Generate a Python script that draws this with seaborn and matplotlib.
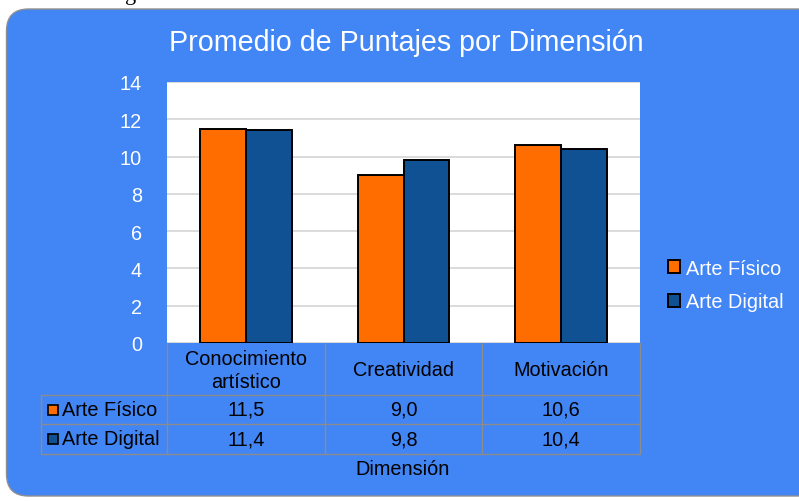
import numpy as np
import pandas as pd
import matplotlib
matplotlib.use("Agg")
import matplotlib.pyplot as plt
import matplotlib.transforms as mtransforms
from matplotlib.patches import FancyBboxPatch, Rectangle
import seaborn as sns

# Data
categories = ["Conocimiento\nartístico", "Creatividad", "Motivación"]
series_names = ["Arte Físico", "Arte Digital"]
arte_fisico = [11.5, 9.0, 10.6]
arte_digital = [11.4, 9.8, 10.4]
y_ticks = [0, 2, 4, 6, 8, 10, 12, 14]

title = "Promedio de Puntajes por Dimensión"
x_label = "Dimensión"

# Colours
BG_BLUE = "#4285f4"
ORANGE = "#ff6d00"
DARK_BLUE = "#0f5192"
GRID = "#d4d4d4"
TABLE_LINE = "#8c8c8c"

df = pd.DataFrame({
    "Dimensión": categories * 2,
    "Serie": [series_names[0]] * 3 + [series_names[1]] * 3,
    "Valor": arte_fisico + arte_digital,
})

sns.set_theme(style="white")
plt.rcParams["font.family"] = ["Liberation Sans", "DejaVu Sans"]
FS = 14.3

W, H = 799, 502
fig = plt.figure(figsize=(W / 100, H / 100), dpi=100)
fig.patch.set_facecolor("white")

# rounded blue background (inches)
bg = FancyBboxPatch((0.065, 0.05), 8.3, 4.87,
                    boxstyle="round,pad=0,rounding_size=0.22",
                    transform=fig.dpi_scale_trans,
                    facecolor=BG_BLUE, edgecolor="#8f8f8f", linewidth=1.0, zorder=-10)
fig.patches.append(bg)

# cut off text from the page above the chart
fig.text(125 / W, 1.0, "g", family="Liberation Serif", fontsize=16,
         color="black", ha="left", va="baseline", zorder=-5)


def fy(py):
    return 1 - py / H


ax = fig.add_axes([167 / W, fy(344), (640 - 167) / W, (344 - 83) / H])
ax.set_facecolor("white")

sns.barplot(data=df, x="Dimensión", y="Valor", hue="Serie",
            palette=[ORANGE, DARK_BLUE], saturation=1, width=0.58, ax=ax,
            edgecolor="black", linewidth=1.4, legend=True, zorder=3)

ax.set_ylim(0, 14)
ax.set_xlim(-0.5, len(categories) - 0.5)
ax.set_yticks(y_ticks)
ax.set_yticklabels([str(t) for t in y_ticks], color="white", fontsize=FS)
ax.tick_params(axis="y", length=0, pad=18)
ax.set_xticks([])
ax.set_xlabel("")
ax.set_ylabel("")
ax.yaxis.grid(True, color=GRID, linewidth=1.2, zorder=0)
ax.set_axisbelow(True)
for s in ax.spines.values():
    s.set_visible(False)

fig.text(406 / W, fy(43), title, color="white", fontsize=20.6,
         ha="center", va="center")

# legend on the right
handles, labels = ax.get_legend_handles_labels()
leg = fig.legend(handles, labels, loc="center left",
                 bbox_to_anchor=(658 / W, fy(286)), frameon=False,
                 fontsize=FS, labelcolor="white", handlelength=0.6,
                 handleheight=0.6, handletextpad=0.3, labelspacing=0.75,
                 borderpad=0)
ax.get_legend().remove()

# data table under the plot
blend = mtransforms.blended_transform_factory(ax.transData, fig.transFigure)
col_edges = np.arange(len(categories) + 1) - 0.5
row_tops = [344, 396, 425, 455]
x_left = 41

line_kw = dict(color=TABLE_LINE, linewidth=1.0, clip_on=False)
for py in row_tops[1:]:
    fig.add_artist(plt.Line2D([x_left / W, 640 / W], [fy(py), fy(py)], **line_kw))
for xe in col_edges:
    ax.plot([xe, xe], [fy(344), fy(455)], transform=blend, **line_kw)
fig.add_artist(plt.Line2D([x_left / W, x_left / W], [fy(396), fy(455)], **line_kw))

for i, cat in enumerate(categories):
    ax.text(i, fy(371), cat, transform=blend, ha="center", va="center",
            fontsize=FS, color="black", linespacing=1.25)

series_vals = [arte_fisico, arte_digital]
series_cols = [ORANGE, DARK_BLUE]
row_centers = [410.5, 440]
for name, vals, col, py in zip(series_names, series_vals, series_cols, row_centers):
    sq = Rectangle((48 / W, fy(py + 5)), 10 / W, 10 / H, transform=fig.transFigure,
                   facecolor=col, edgecolor="black", linewidth=1.2)
    fig.patches.append(sq)
    fig.text(62 / W, fy(py), name, ha="left", va="center", fontsize=FS, color="black")
    for i, v in enumerate(vals):
        ax.text(i, fy(py), f"{v:.1f}".replace(".", ","), transform=blend,
                ha="center", va="center", fontsize=FS, color="black")

fig.text(403 / W, fy(470), x_label, ha="center", va="center", fontsize=FS, color="black")

fig.savefig("out.png", dpi=100)
